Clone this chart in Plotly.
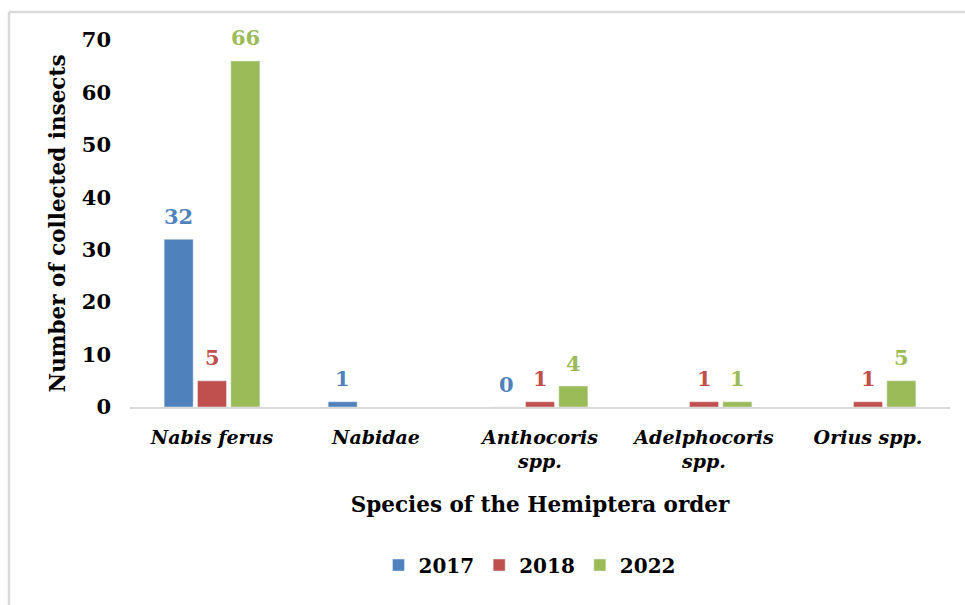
import plotly.graph_objects as go

categories = ["Nabis ferus", "Nabidae", "Anthocoris<br>spp.", "Adelphocoris<br>spp.", "Orius spp."]
series_names = ["2017", "2018", "2022"]
values_2017 = [32, 1, 0, None, None]
values_2018 = [5, None, 1, 1, 1]
values_2022 = [66, None, 4, 1, 5]
colors = ["#4F81BD", "#C0504D", "#9BBB59"]
y_ticks = [0, 10, 20, 30, 40, 50, 60, 70]

FONT = "DejaVu Serif"
W, H = 965, 605
L, R, T, B = 130, 15, 40, 198
BARGAP, GROUPGAP = 0.39, 0.13

all_series = [values_2017, values_2018, values_2022]

fig = go.Figure()
for name, vals, col in zip(series_names, all_series, colors):
    fig.add_trace(go.Bar(x=categories, y=vals, name=name, marker_color=col))

pw, ph = W - L - R, H - T - B
def px_x(p): return (p - L) / pw
def px_y(p): return (H - B - p) / ph

# data labels placed above each bar, offset within its group
cat_w = pw / len(categories)
slot = cat_w * (1 - BARGAP) / len(series_names)
annotations = []
for si, (vals, col) in enumerate(zip(all_series, colors)):
    for ci, v in enumerate(vals):
        if v is None:
            continue
        annotations.append(dict(
            x=categories[ci], y=v, xref="x", yref="y", text=str(v),
            showarrow=False, xshift=(si - 1) * slot, yshift=23,
            yanchor="middle",
            font=dict(family=FONT, size=21, color=col, weight="bold"),
        ))

fig.update_layout(
    width=W, height=H,
    margin=dict(l=L, r=R, t=T, b=B),
    plot_bgcolor="white", paper_bgcolor="white",
    barmode="group", bargap=BARGAP, bargroupgap=GROUPGAP,
    font=dict(family=FONT, color="#000000"),
    xaxis=dict(
        showline=True, linecolor="#D9D9D9", linewidth=1.5,
        ticks="", showgrid=False, ticklabelstandoff=12,
        tickfont=dict(family=FONT, size=19, weight="bold", style="italic"),
        title=dict(text="Species of the Hemiptera order",
                   font=dict(family=FONT, size=21.5, weight="bold"), standoff=26),
    ),
    yaxis=dict(
        range=[0, 70], tickvals=y_ticks, showgrid=False, zeroline=False,
        showline=False, ticks="", ticklabelstandoff=18,
        tickfont=dict(family=FONT, size=21, weight="bold"),
        title=dict(text="Number of collected insects",
                   font=dict(family=FONT, size=21.5, weight="bold"), standoff=10),
    ),
    legend=dict(orientation="h", x=px_x(530), xanchor="center",
                y=px_y(565), yanchor="middle",
                font=dict(family=FONT, size=20, weight="bold"),
                itemwidth=30, traceorder="normal"),
    annotations=annotations,
    shapes=[
        dict(type="line", xref="paper", yref="paper",
             x0=px_x(9), x1=px_x(9), y0=px_y(12), y1=px_y(620),
             line=dict(color="#D9D9D9", width=2.5)),
        dict(type="line", xref="paper", yref="paper",
             x0=px_x(9), x1=px_x(980), y0=px_y(12), y1=px_y(12),
             line=dict(color="#D9D9D9", width=2.5)),
    ],
)

fig.write_html("out.html")
